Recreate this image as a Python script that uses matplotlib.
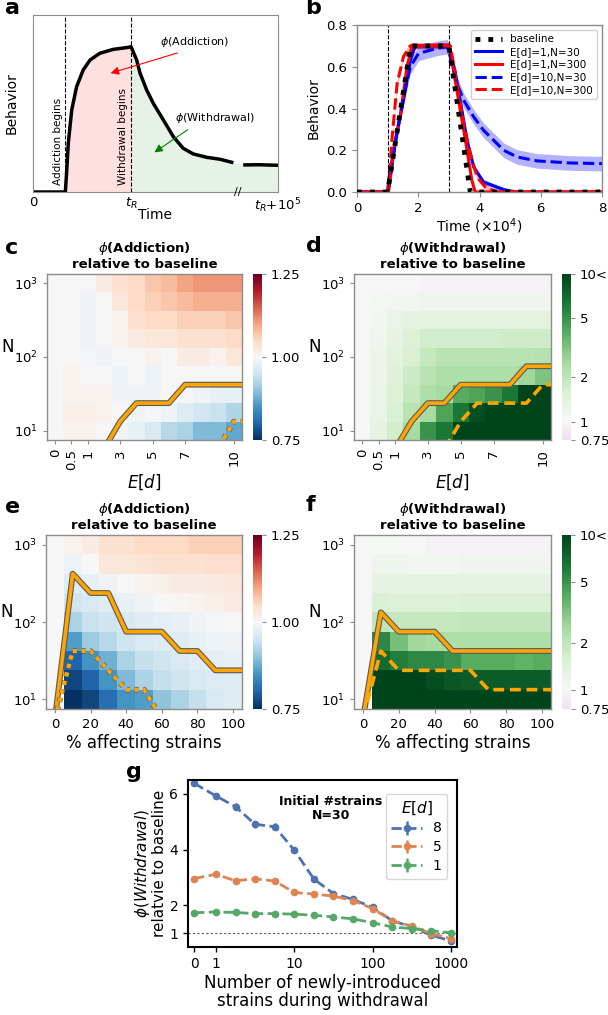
import numpy as np
import matplotlib
matplotlib.use("Agg")
import matplotlib.pyplot as plt
from matplotlib import colors as mcolors, patheffects as pe, ticker

# ---------------- data ----------------
# panel a: schematic behaviour curve (time in % of axis, behaviour 0..1)
a_x_rise = [0, 13.2, 13.7, 14.4, 15.8, 17.8, 20.5, 23.3, 27.3, 32.8, 38.9, 40.0]
a_y_rise = [0, 0, 0.105, 0.275, 0.463, 0.595, 0.69, 0.746, 0.784, 0.806, 0.817, 0.821]
a_x_decay = [40.0, 42.3, 43.7, 46.4, 49.1, 53.2, 57.3, 61.3, 65.4, 70.9, 76.3, 81.1]
a_y_decay = [0.821, 0.746, 0.671, 0.576, 0.501, 0.407, 0.312, 0.247, 0.215, 0.196, 0.185, 0.168]
a_x_late = [86.5, 92, 100]
a_y_late = [0.153, 0.154, 0.151]

# panel b: behaviour vs time (x1e4)
t_base = [0, 1.0, 1.75, 3.0, 3.7, 8]
y_base = [0, 0, 0.7, 0.7, 0, 0]
t_e1n30 = [0, 1.0, 1.03, 1.3, 1.52, 1.74, 1.9, 3.0, 3.2, 3.37, 3.59, 3.81, 4.13, 4.79, 5.22, 8]
y_e1n30 = [0, 0, 0.056, 0.28, 0.44, 0.63, 0.7, 0.7, 0.58, 0.44, 0.25, 0.12, 0.048, 0.011, 0, 0]
t_e1n300 = [0, 1.03, 1.25, 1.41, 1.63, 1.8, 3.01, 3.26, 3.54, 3.75, 3.86, 8]
y_e1n300 = [0, 0, 0.25, 0.36, 0.6, 0.7, 0.704, 0.488, 0.248, 0.056, 0, 0]
t_e10n30 = [0, 1.0, 1.03, 1.3, 1.52, 1.74, 2.01, 2.61, 2.94, 3.05, 3.26, 3.48, 3.81, 4.13, 4.46,
            4.79, 5.22, 5.88, 6.96, 8]
y_e10n30 = [0, 0, 0.02, 0.28, 0.456, 0.6, 0.664, 0.688, 0.696, 0.648, 0.52, 0.44, 0.36, 0.296, 0.248,
            0.2, 0.168, 0.149, 0.139, 0.136]
t_e10n300 = [0, 1.0, 1.03, 1.14, 1.31, 1.52, 1.74, 3.05, 3.26, 3.48, 3.7, 3.92, 4.19, 4.57, 8]
y_e10n300 = [0, 0, 0.024, 0.25, 0.52, 0.65, 0.7, 0.7, 0.52, 0.33, 0.184, 0.072, 0.024, 0, 0]
band_b = [0.012, 0.012, 0.035, 0.015]

# heatmaps: rows N = 10^1 .. 10^3 (4 per decade), listed top row (N=1000) first
log_n = [1.0, 1.25, 1.5, 1.75, 2.0, 2.25, 2.5, 2.75, 3.0]
ed_labels = ["0", "0.5", "1", "2", "3", "4", "5", "6", "7", "8", "9", "10"]
ed_ticks = ["0", "0.5", "1", "3", "5", "7", "10"]
pct = [0, 10, 20, 30, 40, 50, 60, 70, 80, 90, 100]

c_rows = [
    [1.00, 1.00, 1.00, 1.02, 1.04, 1.05, 1.07, 1.08, 1.10, 1.11, 1.11, 1.11],
    [1.00, 1.00, 0.99, 1.00, 1.03, 1.05, 1.06, 1.07, 1.08, 1.09, 1.09, 1.09],
    [1.00, 1.00, 0.99, 1.00, 1.01, 1.04, 1.05, 1.05, 1.06, 1.06, 1.06, 1.07],
    [1.00, 1.00, 0.99, 1.00, 1.01, 1.02, 1.03, 1.03, 1.04, 1.04, 1.04, 1.05],
    [1.00, 1.00, 0.995, 0.99, 1.00, 1.00, 1.01, 1.00, 1.02, 1.02, 1.01, 1.03],
    [1.00, 1.01, 1.00, 1.00, 0.985, 1.00, 0.985, 1.00, 1.00, 1.00, 1.00, 1.00],
    [1.00, 1.01, 1.01, 1.01, 0.99, 0.99, 0.99, 1.00, 0.995, 0.99, 0.98, 0.98],
    [1.00, 1.015, 1.015, 1.01, 1.00, 0.99, 0.995, 0.99, 0.965, 0.955, 0.945, 0.925],
    [1.00, 1.01, 1.01, 1.00, 0.99, 0.98, 0.96, 0.93, 0.92, 0.89, 0.89, 0.87],
]
d_rows = [
    [1.00, 1.00, 1.00, 1.00, 0.94, 0.94, 0.94, 0.94, 0.94, 0.94, 0.94, 0.94],
    [1.00, 1.05, 1.08, 1.10, 1.12, 1.12, 1.12, 1.12, 1.12, 1.12, 1.12, 1.12],
    [1.00, 1.10, 1.25, 1.35, 1.35, 1.35, 1.35, 1.35, 1.35, 1.35, 1.35, 1.35],
    [1.00, 1.15, 1.30, 1.50, 1.70, 1.70, 1.70, 1.70, 1.70, 1.75, 1.75, 1.75],
    [1.00, 1.20, 1.40, 1.60, 1.90, 2.10, 2.10, 2.10, 2.10, 2.10, 2.10, 2.20],
    [1.00, 1.20, 1.45, 1.80, 2.10, 2.30, 2.30, 2.30, 2.30, 2.30, 2.60, 3.20],
    [1.00, 1.25, 1.50, 1.90, 2.30, 2.50, 4.00, 4.30, 5.00, 6.30, 12.0, 12.0],
    [1.00, 1.25, 1.60, 2.10, 2.50, 4.30, 6.30, 9.00, 12.0, 12.0, 12.0, 12.0],
    [1.00, 1.30, 1.70, 2.50, 5.00, 6.30, 12.0, 12.0, 12.0, 12.0, 12.0, 12.0],
]
e_rows = [
    [1.00, 1.01, 1.02, 1.04, 1.04, 1.05, 1.05, 1.05, 1.06, 1.06, 1.06],
    [1.00, 0.985, 1.00, 1.03, 1.03, 1.035, 1.04, 1.04, 1.04, 1.045, 1.045],
    [1.00, 0.97, 0.98, 0.99, 1.00, 1.01, 1.015, 1.02, 1.02, 1.025, 1.03],
    [1.00, 0.95, 0.96, 0.97, 0.98, 0.99, 1.00, 1.005, 1.01, 1.015, 1.02],
    [1.00, 0.92, 0.945, 0.95, 0.96, 0.97, 0.975, 0.98, 0.99, 0.995, 1.00],
    [1.00, 0.86, 0.91, 0.93, 0.95, 0.96, 0.965, 0.97, 0.98, 0.985, 0.99],
    [1.00, 0.80, 0.85, 0.88, 0.92, 0.94, 0.95, 0.96, 0.97, 0.975, 0.98],
    [1.00, 0.77, 0.80, 0.85, 0.89, 0.92, 0.94, 0.95, 0.96, 0.965, 0.97],
    [1.00, 0.75, 0.77, 0.81, 0.85, 0.86, 0.90, 0.92, 0.94, 0.96, 0.97],
]
f_rows = [
    [1.00, 1.03, 1.03, 1.00, 0.95, 0.95, 0.94, 0.94, 0.94, 0.94, 0.95],
    [1.00, 1.15, 1.15, 1.08, 1.08, 1.08, 1.12, 1.12, 1.12, 1.12, 1.12],
    [1.00, 1.30, 1.30, 1.30, 1.30, 1.30, 1.30, 1.30, 1.30, 1.30, 1.30],
    [1.00, 1.55, 1.50, 1.50, 1.50, 1.50, 1.55, 1.55, 1.55, 1.55, 1.55],
    [1.00, 2.00, 1.90, 1.90, 1.90, 1.90, 1.95, 1.95, 1.95, 1.95, 1.95],
    [1.00, 5.50, 3.30, 2.60, 2.50, 2.30, 2.30, 2.30, 2.30, 2.30, 2.30],
    [1.00, 7.00, 6.00, 5.50, 5.50, 5.00, 4.00, 4.00, 4.00, 3.80, 4.00],
    [1.00, 12.0, 12.0, 11.0, 9.00, 8.50, 8.00, 8.00, 8.00, 8.00, 8.00],
    [1.00, 12.0, 12.0, 12.0, 12.0, 12.0, 12.0, 12.0, 12.0, 12.0, 12.0],
]
# significance boundaries per column, in row units above the N=10 row (-1 = none)
c_solid = [-1, -1, -1, -1, 0.5, 1.5, 1.5, 1.5, 2.5, 2.5, 2.5, 2.5]
c_dot = [-1, -1, -1, -1, -1, -1, -1, -1, -1, -1, -1, 0.5]
d_solid = [-1, -1, -1, 0.5, 1.5, 1.5, 2.5, 2.5, 2.5, 2.5, 3.5, 3.5]
d_dash = [-1, -1, -1, -1, -1, -1, 0.5, 1.5, 1.5, 1.5, 1.5, 2.5]
e_solid = [-1, 6.5, 5.5, 5.5, 3.5, 3.5, 3.5, 2.5, 2.5, 1.5, 1.5]
e_dot = [-1, 2.5, 2.5, 1.5, 0.5, 0.5, -1, -1, -1, -1, -1]
f_solid = [-1, 4.5, 3.5, 3.5, 3.5, 2.5, 2.5, 2.5, 2.5, 2.5, 2.5]
f_dash = [-1, 2.5, 1.5, 1.5, 1.5, 1.5, 1.5, 0.5, 0.5, 0.5, 0.5]

# panel g
n_new = [0, 1, 1.78, 3.16, 5.62, 10, 17.8, 31.6, 56.2, 100, 178, 316, 562, 1000]
w_ed8 = [6.38, 5.93, 5.54, 4.91, 4.82, 3.98, 2.94, 2.42, 2.21, 1.92, 1.44, 1.22, 0.92, 0.72]
w_ed5 = [2.96, 3.11, 2.88, 2.95, 2.87, 2.46, 2.40, 2.33, 2.17, 1.88, 1.44, 1.25, 0.98, 0.80]
w_ed1 = [1.73, 1.76, 1.74, 1.70, 1.70, 1.68, 1.64, 1.58, 1.51, 1.37, 1.22, 1.16, 1.08, 1.01]
err_ed8 = [0.10, 0.12, 0.12, 0.12, 0.12, 0.12, 0.07, 0.06, 0.06, 0.05, 0.04, 0.04, 0.04, 0.04]
err_ed5 = [0.05, 0.05, 0.04, 0.04, 0.04, 0.04, 0.04, 0.04, 0.04, 0.04, 0.03, 0.03, 0.03, 0.03]
err_ed1 = [0.03] * 14

# ---------------- figure ----------------
W, H = 608, 1015
fig = plt.figure(figsize=(W / 100, H / 100), dpi=100)
SP = "0.55"


def rect(l, t, r, b):
    return [l / W, 1 - b / H, (r - l) / W, (b - t) / H]


def grey_frame(ax):
    for s in ax.spines.values():
        s.set_color(SP)
        s.set_linewidth(1.0)
    ax.tick_params(color=SP, length=3.5)


# ----- a -----
ax = fig.add_axes(rect(33, 15, 278, 192))
ax.fill_between(a_x_rise[1:], a_y_rise[1:], color="red", alpha=0.12, lw=0)
ax.fill_between(a_x_decay + a_x_late, a_y_decay + a_y_late, color="green", alpha=0.1, lw=0)
ax.plot(a_x_rise + a_x_decay, a_y_rise + a_y_decay, color="k", lw=2.5)
ax.plot(a_x_late, a_y_late, color="k", lw=2.5)
ax.axvline(13.2, color="k", ls="--", lw=0.8)
ax.axvline(40, color="k", ls="--", lw=0.8)
ax.text(12.3, 0.04, "Addiction begins", rotation=90, ha="right", va="bottom", fontsize=7.5)
ax.text(38.9, 0.04, "Withdrawal begins", rotation=90, ha="right", va="bottom", fontsize=7.5)
ax.annotate("", xy=(30.6, 0.667), xytext=(60, 0.79),
            arrowprops=dict(arrowstyle="-|>", color="red", lw=0.8, mutation_scale=12))
ax.text(66, 0.85, r"$\phi$(Addiction)", ha="center", va="center", fontsize=8)
ax.annotate("", xy=(48.6, 0.215), xytext=(64, 0.36),
            arrowprops=dict(arrowstyle="-|>", color="green", lw=0.8, mutation_scale=12))
ax.text(74.5, 0.42, r"$\phi$(Withdrawal)", ha="center", va="center", fontsize=8)
ax.text(83.6, 0.0, "//", ha="center", va="center", fontsize=8)
ax.set_xlim(0, 100)
ax.set_ylim(0, 1)
ax.set_yticks([])
ax.set_xticks([0, 40, 100])
ax.set_xticklabels(["0", "$t_R$", "$t_R$+$10^5$"], fontsize=9.5)
ax.tick_params(axis="x", length=0, pad=3)
for s in ax.spines.values():
    s.set_color(SP)
ax.set_xlabel("Time", fontsize=10, labelpad=-5)
ax.set_ylabel("Behavior", fontsize=10)
ax.yaxis.set_label_coords(-0.06, 0.5)

# ----- b -----
ax = fig.add_axes(rect(357, 25, 602, 192))
series_b = [(t_e1n30, y_e1n30, "blue", "-", "E[d]=1,N=30"),
            (t_e1n300, y_e1n300, "red", "-", "E[d]=1,N=300"),
            (t_e10n30, y_e10n30, "blue", "--", "E[d]=10,N=30"),
            (t_e10n300, y_e10n300, "red", "--", "E[d]=10,N=300")]
handles = []
for (tt, yy, col, ls, lab), bw in zip(series_b, band_b):
    yy = np.array(yy)
    ax.fill_between(tt, np.clip(yy - bw, 0, None), yy + bw * (yy > 0), color=col, alpha=0.3, lw=0)
    h, = ax.plot(tt, yy, color=col, ls=ls, lw=2.2, label=lab)
    handles.append(h)
hb, = ax.plot(t_base, y_base, color="k", ls=":", lw=3.5, label="baseline", zorder=5)
ax.axvline(1, color="k", ls="--", lw=0.8)
ax.axvline(3, color="k", ls="--", lw=0.8)
ax.set_xlim(0, 8)
ax.set_ylim(0, 0.8)
ax.set_xticks([0, 2, 4, 6, 8])
ax.set_yticks([0, 0.2, 0.4, 0.6, 0.8])
ax.tick_params(labelsize=9.5)
grey_frame(ax)
ax.set_xlabel(r"Time ($\times 10^4$)", fontsize=10, labelpad=1)
ax.set_ylabel("Behavior", fontsize=10)
ax.legend([hb] + handles, [hb.get_label()] + [h.get_label() for h in handles],
          loc="upper right", fontsize=7.5, handlelength=2.5, borderpad=0.4,
          labelspacing=0.25, framealpha=0.9)

# ----- heatmaps -----
rb_cmap = plt.get_cmap("RdBu_r")
rb_norm = mcolors.Normalize(0.75, 1.25)
pg_cmap = mcolors.ListedColormap(plt.get_cmap("PRGn")(np.linspace(0.4375, 1, 256)))
pg_norm = mcolors.LogNorm(0.75, 10)


def boundary(ax, bounds, ls, lw, stroke):
    ncol = len(bounds)
    xs = list(range(ncol)) + [ncol]
    ys = [log_n[0] + 0.25 * b for b in bounds] + [log_n[0] + 0.25 * bounds[-1]]
    line, = ax.plot(xs, ys, color="orange", lw=lw, ls=ls, zorder=4)
    if stroke:
        line.set_path_effects([pe.Stroke(linewidth=stroke, foreground="0.35"), pe.Normal()])


def heatmap(box, cbox, rows, cmap, norm, solid, second, style2, xlabels, xticks, xlabel, title,
            cticks, clabels, rot):
    ax = fig.add_axes(rect(*box))
    vals = np.flipud(np.array(rows))
    nr, nc = vals.shape
    ly = np.array(log_n)
    yedges = np.r_[ly - 0.125, ly[-1] + 0.125]
    m = ax.pcolormesh(np.arange(nc + 1) - 0.5, yedges, vals, cmap=cmap, norm=norm)
    boundary(ax, solid, "-", 2.6, 4.2)
    if style2 == "dotted":
        boundary(ax, second, (0, (1, 1.1)), 3.0, 4.0)
    else:
        boundary(ax, second, (0, (3, 1.6)), 2.6, None)
    ax.set_xlim(-0.5, nc - 0.5)
    ax.set_ylim(yedges[0], yedges[-1])
    ax.set_yticks([1, 2, 3])
    ax.set_yticklabels(["$10^1$", "$10^2$", "$10^3$"], fontsize=9.5)
    ax.set_xticks([xlabels.index(t) for t in xticks])
    ax.set_xticklabels(xticks, fontsize=9.5, rotation=rot)
    grey_frame(ax)
    ax.tick_params(length=3)
    ax.set_xlabel(xlabel, fontsize=12, labelpad=2)
    ax.set_ylabel("N", fontsize=12, rotation=0, ha="center", va="center")
    ax.yaxis.set_label_coords(-0.2, 0.56)
    ax.set_title(title, fontweight="bold", fontsize=9.5, pad=4, linespacing=1.1)
    cax = fig.add_axes(rect(*cbox))
    cb = fig.colorbar(m, cax=cax, ticks=cticks)
    cb.outline.set_visible(False)
    cax.yaxis.set_minor_locator(ticker.NullLocator())
    cb.set_ticks(cticks)
    cb.set_ticklabels(clabels)
    cax.tick_params(labelsize=9.5, length=3, color=SP)
    return ax


t_add = "$\\phi$(Addiction)\nrelative to baseline"
t_wd = "$\\phi$(Withdrawal)\nrelative to baseline"
rb_t, rb_l = [0.75, 1.0, 1.25], ["0.75", "1.00", "1.25"]
pg_t, pg_l = [0.75, 1, 2, 5, 10], ["0.75", "1", "2", "5", "10<"]
pct_lab = [str(p) for p in pct]
pct_tick = ["0", "20", "40", "60", "80", "100"]

heatmap((47, 274, 242, 440), (253, 274, 262, 440), c_rows, rb_cmap, rb_norm, c_solid, c_dot, "dotted",
        ed_labels, ed_ticks, "$E[d]$", t_add, rb_t, rb_l, 90)
heatmap((354, 274, 551, 440), (562, 274, 571, 440), d_rows, pg_cmap, pg_norm, d_solid, d_dash, "dashed",
        ed_labels, ed_ticks, "$E[d]$", t_wd, pg_t, pg_l, 90)
heatmap((46, 535, 242, 709), (253, 535, 262, 709), e_rows, rb_cmap, rb_norm, e_solid, e_dot, "dotted",
        pct_lab, pct_tick, "% affecting strains", t_add, rb_t, rb_l, 0)
heatmap((354, 535, 551, 709), (562, 535, 571, 709), f_rows, pg_cmap, pg_norm, f_solid, f_dash, "dashed",
        pct_lab, pct_tick, "% affecting strains", t_wd, pg_t, pg_l, 0)

# ----- g -----
ax = fig.add_axes(rect(188, 780, 457, 947))
for yy, ee, col, lab in [(w_ed8, err_ed8, "#4c72b0", "8"), (w_ed5, err_ed5, "#dd8452", "5"),
                         (w_ed1, err_ed1, "#55a868", "1")]:
    ax.errorbar(n_new, yy, yerr=ee, fmt="--o", color=col, lw=2, ms=4.5, elinewidth=1.8, label=lab)
ax.axhline(1, color="0.35", ls=(0, (2, 2)), lw=0.8)
ax.set_xscale("symlog", linthresh=1, linscale=0.25)
ax.set_xlim(-0.28, 1190)
ax.set_ylim(0.5, 6.5)
ax.set_xticks([0, 1, 10, 100, 1000])
ax.set_xticklabels(["0", "1", "10", "100", "1000"])
ax.xaxis.set_minor_locator(ticker.NullLocator())
ax.set_yticks([1, 2, 4, 6])
ax.tick_params(labelsize=10, length=3.5, width=1)
for s in ax.spines.values():
    s.set_color("k")
    s.set_linewidth(1.5)
ax.set_xlabel("Number of newly-introduced\nstrains during withdrawal", fontsize=12, labelpad=2,
              linespacing=1.0)
ax.set_ylabel("$\\phi(Withdrawal)$\nrelatvie to baseline", fontsize=11, linespacing=1.0, labelpad=2)
ax.text(0.53, 0.91, "Initial #strains\nN=30", transform=ax.transAxes, ha="center", va="top",
        fontsize=9, fontweight="bold", linespacing=1.1)
ax.legend(title="$E[d]$", loc="upper right", fontsize=10, title_fontsize=11, handlelength=2.2,
          borderpad=0.4, labelspacing=0.35, bbox_to_anchor=(0.99, 0.96))

# panel letters
for lab, x, y in [("a", 5, -2), ("b", 305, -2), ("c", 5, 238), ("d", 306, 236), ("e", 5, 497),
                  ("f", 306, 495), ("g", 126, 762)]:
    fig.text(x / W, 1 - y / H, lab, fontsize=16, fontweight="bold", va="top", ha="left")

fig.savefig("out.png", dpi=100)
